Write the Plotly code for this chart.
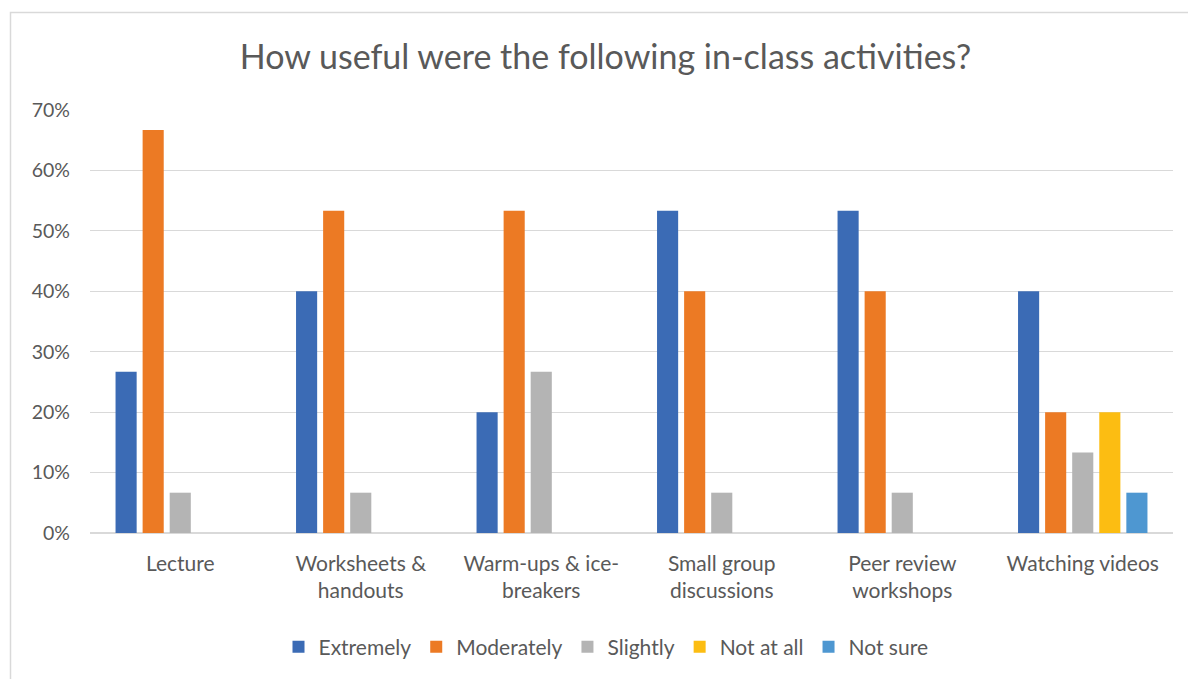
import plotly.graph_objects as go

categories = [
    "Lecture",
    "Worksheets &<br>handouts",
    "Warm-ups & ice-<br>breakers",
    "Small group<br>discussions",
    "Peer review<br>workshops",
    "Watching videos",
]
extremely = [0.2667, 0.40, 0.20, 0.5333, 0.5333, 0.40]
moderately = [0.6667, 0.5333, 0.5333, 0.40, 0.40, 0.20]
slightly = [0.0667, 0.0667, 0.2667, 0.0667, 0.0667, 0.1333]
not_at_all = [0, 0, 0, 0, 0, 0.20]
not_sure = [0, 0, 0, 0, 0, 0.0667]

series = [
    ("Extremely", extremely, "#3B6BB5"),
    ("Moderately", moderately, "#EC7A24"),
    ("Slightly", slightly, "#B4B4B4"),
    ("Not at all", not_at_all, "#FCBD12"),
    ("Not sure", not_sure, "#4E97D1"),
]

W, H = 1188, 679
ML, MR, MT, MB = 90, 15, 110, 146
PW, PH = W - ML - MR, H - MT - MB

FONT = "Lato"
GREY = "#595959"

fig = go.Figure()
for name, vals, color in series:
    fig.add_trace(go.Bar(
        name=name, x=categories, y=vals,
        marker=dict(color=color, line=dict(width=0)),
    ))


def px_x(p):
    return (p - ML) / PW


def px_y(p):
    return (H - MB - p) / PH


fig.update_layout(
    width=W, height=H,
    margin=dict(l=ML, r=MR, t=MT, b=MB),
    paper_bgcolor="white", plot_bgcolor="white",
    font=dict(family=FONT, color=GREY, size=21),
    barmode="group", bargap=0.25, bargroupgap=0.22,
    title=dict(
        text="How useful were the following in-class activities?",
        x=(236 + 975) / 2 / W, xanchor="center",
        y=1 - 57 / H, yanchor="middle",
        font=dict(family=FONT, size=34, color=GREY),
    ),
    xaxis=dict(
        showgrid=False, showline=False, ticks="",
        tickfont=dict(size=21, color=GREY),
        ticklabelstandoff=16,
    ),
    yaxis=dict(
        range=[0, 0.7], dtick=0.1, tickformat=".0%",
        gridcolor="#D9D9D9", gridwidth=1,
        zeroline=True, zerolinecolor="#D9D9D9", zerolinewidth=2,
        showline=False, ticks="",
        tickfont=dict(size=19.5, color=GREY),
        ticklabelstandoff=19,
    ),
    legend=dict(
        orientation="h", x=px_x(606), xanchor="center",
        y=px_y(647), yanchor="middle",
        font=dict(size=21, color=GREY),
        traceorder="normal", itemclick=False,
        itemwidth=30,
    ),
    showlegend=True,
    shapes=[dict(
        type="rect", xref="paper", yref="paper",
        x0=px_x(10.5), x1=px_x(1210), y0=px_y(700), y1=px_y(12.5),
        line=dict(color="#D9D9D9", width=1.5), fillcolor="rgba(0,0,0,0)",
        layer="below",
    )],
)

fig.write_html("out.html")
